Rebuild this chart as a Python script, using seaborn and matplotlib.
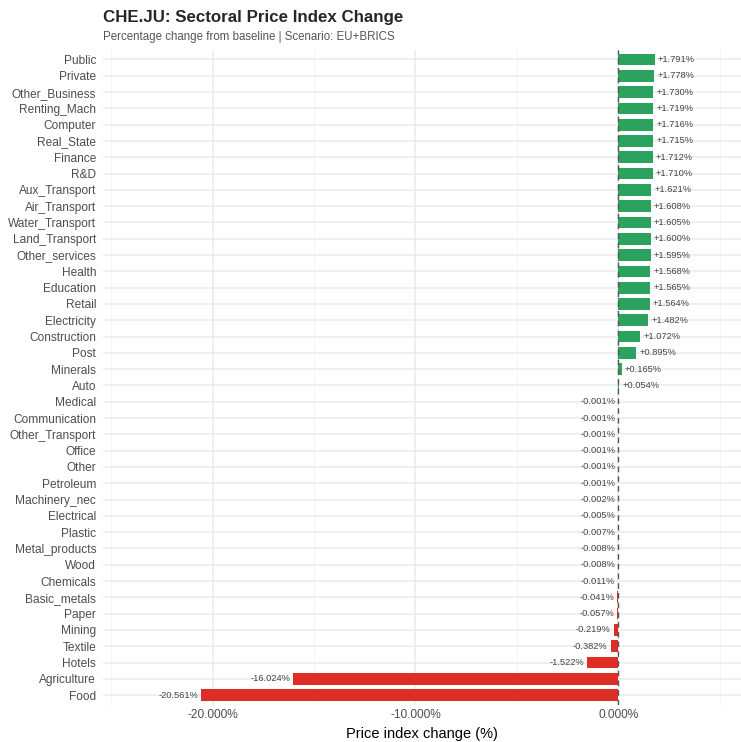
import matplotlib
matplotlib.use("Agg")
import matplotlib.pyplot as plt
import matplotlib.ticker as mticker
import seaborn as sns
import pandas as pd

sectors = [
    "Public", "Private", "Other_Business", "Renting_Mach", "Computer", "Real_State",
    "Finance", "R&D", "Aux_Transport", "Air_Transport", "Water_Transport",
    "Land_Transport", "Other_services", "Health", "Education", "Retail",
    "Electricity", "Construction", "Post", "Minerals", "Auto", "Medical",
    "Communication", "Other_Transport", "Office", "Other", "Petroleum",
    "Machinery_nec", "Electrical", "Plastic", "Metal_products", "Wood",
    "Chemicals", "Basic_metals", "Paper", "Mining", "Textile", "Hotels",
    "Agriculture", "Food",
]
changes = [
    1.791, 1.778, 1.730, 1.719, 1.716, 1.715, 1.712, 1.710, 1.621, 1.608, 1.605,
    1.600, 1.595, 1.568, 1.565, 1.564, 1.482, 1.072, 0.895, 0.165, 0.054, -0.001,
    -0.001, -0.001, -0.001, -0.001, -0.001, -0.002, -0.005, -0.007, -0.008, -0.008,
    -0.011, -0.041, -0.057, -0.219, -0.382, -1.522, -16.024, -20.561,
]
major_ticks = [-20, -10, 0]
minor_ticks = [-25, -15, -5, 5]

df = pd.DataFrame({"sector": sectors, "change": changes})
df["direction"] = ["up" if v > 0 else "down" for v in df["change"]]

sns.set_theme(style="white")
plt.rcParams["font.family"] = ["Liberation Sans", "DejaVu Sans"]

fig = plt.figure(figsize=(7.41, 7.42), dpi=100)
ax = fig.add_axes([0.139, 0.050, 0.861, 0.883])

sns.barplot(
    data=df, y="sector", x="change", hue="direction",
    palette={"up": "#2ca25f", "down": "#de2d26"}, saturation=1,
    order=sectors, orient="h", width=0.72, legend=False,
    linewidth=0, ax=ax, zorder=3,
)

ax.set_xlim(-25.4, 6.05)
ax.set_ylim(len(sectors) - 0.4, -0.6)
ax.set_xticks(major_ticks)
ax.set_xticks(minor_ticks, minor=True)
ax.xaxis.set_major_formatter(mticker.FuncFormatter(lambda v, p: f"{v:.3f}%"))
ax.grid(True, which="major", axis="both", color="#ebebeb", linewidth=1.1, zorder=0)
ax.grid(True, which="minor", axis="x", color="#f3f3f3", linewidth=0.6, zorder=0)
ax.set_axisbelow(True)
for s in ax.spines.values():
    s.set_visible(False)
ax.tick_params(axis="both", which="both", length=0)
ax.tick_params(axis="y", labelsize=8.6, labelcolor="#4d4d4d", pad=5)
ax.tick_params(axis="x", labelsize=8.6, labelcolor="#4d4d4d", pad=3)

ax.axvline(0, color="#555555", linestyle=(0, (4, 3)), linewidth=1.0, zorder=4)

for i, v in enumerate(changes):
    if v > 0:
        ax.text(v + 0.15, i, f"+{v:.3f}%", ha="left", va="center",
                fontsize=6.7, color="#444444", zorder=5)
    else:
        ax.text(v - 0.15, i, f"{v:.3f}%", ha="right", va="center",
                fontsize=6.7, color="#444444", zorder=5)

ax.set_ylabel("")
ax.set_xlabel("Price index change (%)", fontsize=10.5, color="black", labelpad=4)

fig.text(0.139, 0.970, "CHE.JU: Sectoral Price Index Change", fontsize=12.2,
         fontweight="bold", ha="left", va="baseline")
fig.text(0.139, 0.946, "Percentage change from baseline | Scenario: EU+BRICS",
         fontsize=8.3, color="#555555", ha="left", va="baseline")

fig.savefig("out.png", dpi=100, facecolor="white")
